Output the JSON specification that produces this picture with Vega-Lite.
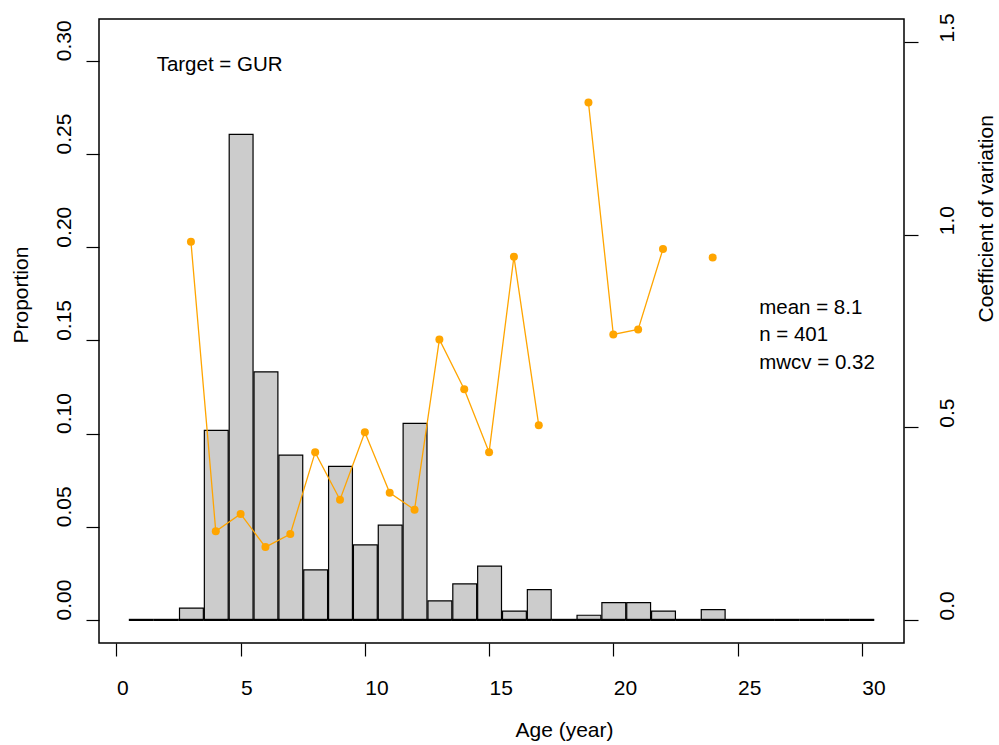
{
  "$schema": "https://vega.github.io/schema/vega-lite/v6.json",
  "autosize": {"type": "none"},
  "padding": {"left": 99, "top": 19, "right": 95, "bottom": 102},
  "width": 805,
  "height": 624,
  "background": "white",
  "config": {
    "font": "Liberation Sans",
    "view": {"stroke": "black", "strokeWidth": 1.5},
    "axis": {
      "domain": false,
      "grid": false,
      "ticks": true,
      "tickColor": "black",
      "tickWidth": 1.2,
      "labelColor": "black",
      "labelFont": "Liberation Sans",
      "labelFontSize": 21,
      "labelOverlap": false,
      "labelFlush": false,
      "labelBound": false,
      "titleColor": "black",
      "titleFont": "Liberation Sans",
      "titleFontSize": 21,
      "titleFontWeight": "normal"
    }
  },
  "datasets": {
    "hist": [
      {"lo": 0.5, "hi": 1.5, "prop": 0},
      {"lo": 1.5, "hi": 2.5, "prop": 0},
      {"lo": 2.5, "hi": 3.5, "prop": 0.0063},
      {"lo": 3.5, "hi": 4.5, "prop": 0.1017},
      {"lo": 4.5, "hi": 5.5, "prop": 0.2605},
      {"lo": 5.5, "hi": 6.5, "prop": 0.1331},
      {"lo": 6.5, "hi": 7.5, "prop": 0.0884},
      {"lo": 7.5, "hi": 8.5, "prop": 0.0268},
      {"lo": 8.5, "hi": 9.5, "prop": 0.0824},
      {"lo": 9.5, "hi": 10.5, "prop": 0.0402},
      {"lo": 10.5, "hi": 11.5, "prop": 0.0508},
      {"lo": 11.5, "hi": 12.5, "prop": 0.1054},
      {"lo": 12.5, "hi": 13.5, "prop": 0.0102},
      {"lo": 13.5, "hi": 14.5, "prop": 0.0193},
      {"lo": 14.5, "hi": 15.5, "prop": 0.0288},
      {"lo": 15.5, "hi": 16.5, "prop": 0.0047},
      {"lo": 16.5, "hi": 17.5, "prop": 0.0162},
      {"lo": 17.5, "hi": 18.5, "prop": 0},
      {"lo": 18.5, "hi": 19.5, "prop": 0.0025},
      {"lo": 19.5, "hi": 20.5, "prop": 0.0093},
      {"lo": 20.5, "hi": 21.5, "prop": 0.0093},
      {"lo": 21.5, "hi": 22.5, "prop": 0.0047},
      {"lo": 22.5, "hi": 23.5, "prop": 0},
      {"lo": 23.5, "hi": 24.5, "prop": 0.0055},
      {"lo": 24.5, "hi": 25.5, "prop": 0},
      {"lo": 25.5, "hi": 26.5, "prop": 0},
      {"lo": 26.5, "hi": 27.5, "prop": 0},
      {"lo": 27.5, "hi": 28.5, "prop": 0},
      {"lo": 28.5, "hi": 29.5, "prop": 0},
      {"lo": 29.5, "hi": 30.5, "prop": 0}
    ],
    "cv": [
      {"age": 3, "cv": 0.982},
      {"age": 4, "cv": 0.230},
      {"age": 5, "cv": 0.275},
      {"age": 6, "cv": 0.189},
      {"age": 7, "cv": 0.223},
      {"age": 8, "cv": 0.435},
      {"age": 9, "cv": 0.312},
      {"age": 10, "cv": 0.487},
      {"age": 11, "cv": 0.330},
      {"age": 12, "cv": 0.286},
      {"age": 13, "cv": 0.728},
      {"age": 14, "cv": 0.599},
      {"age": 15, "cv": 0.435},
      {"age": 16, "cv": 0.943},
      {"age": 17, "cv": 0.505},
      {"age": 18, "cv": null},
      {"age": 19, "cv": 1.343},
      {"age": 20, "cv": 0.741},
      {"age": 21, "cv": 0.754},
      {"age": 22, "cv": 0.963},
      {"age": 23, "cv": null},
      {"age": 24, "cv": 0.941}
    ],
    "notes": [
      {"x": 1.62, "y": 0.2947, "label": "Target = GUR"},
      {"x": 25.87, "y": 0.164, "label": "mean = 8.1"},
      {"x": 25.87, "y": 0.1497, "label": "n = 401"},
      {"x": 25.87, "y": 0.1345, "label": "mwcv = 0.32"}
    ]
  },
  "layer": [
    {
      "layer": [
        {
          "data": {"name": "hist"},
          "mark": {"type": "bar", "fill": "#CCCCCC", "stroke": "black", "strokeWidth": 1.2},
          "encoding": {
            "x": {
              "field": "lo", "type": "quantitative", "bin": "binned",
              "scale": {"domain": [-0.7, 31.7], "nice": false, "zero": false},
              "axis": {
                "orient": "bottom",
                "values": [0, 5, 10, 15, 20, 25, 30],
                "format": "d",
                "tickSize": 13,
                "labelAlign": "left",
                "labelBaseline": "alphabetic",
                "labelPadding": 38,
                "title": "Age (year)",
                "titleAlign": "left",
                "titleBaseline": "alphabetic",
                "titleX": 416,
                "titleY": 93
              }
            },
            "x2": {"field": "hi"},
            "y": {
              "field": "prop", "type": "quantitative",
              "scale": {"domain": [-0.0124, 0.3224], "nice": false, "zero": false},
              "axis": {
                "orient": "left",
                "values": [0, 0.05, 0.1, 0.15, 0.2, 0.25, 0.3],
                "format": ".2f",
                "tickSize": 13,
                "labelAngle": 270,
                "labelAlign": "left",
                "labelBaseline": "alphabetic",
                "labelPadding": 16,
                "title": "Proportion",
                "titleAngle": 270,
                "titleAlign": "left",
                "titleBaseline": "alphabetic",
                "titleX": -72,
                "titleY": 324
              }
            },
            "y2": {"datum": 0}
          }
        },
        {
          "data": {"name": "hist"},
          "mark": {"type": "rule", "color": "black", "strokeWidth": 2.2, "strokeCap": "butt"},
          "encoding": {
            "x": {"field": "lo", "type": "quantitative", "title": "Age (year)"},
            "x2": {"field": "hi"},
            "y": {"datum": 0}
          }
        },
        {
          "data": {"name": "notes"},
          "mark": {"type": "text", "align": "left", "baseline": "alphabetic", "fontSize": 20.5, "color": "black", "font": "Liberation Sans"},
          "encoding": {
            "x": {"field": "x", "type": "quantitative", "title": "Age (year)"},
            "y": {"field": "y", "type": "quantitative"},
            "text": {"field": "label"}
          }
        }
      ]
    },
    {
      "data": {"name": "cv"},
      "layer": [
        {
          "mark": {"type": "line", "color": "#FFA500", "strokeWidth": 1.3, "invalid": "break-paths-show-domains"},
          "encoding": {
            "x": {"field": "age", "type": "quantitative", "title": "Age (year)"},
            "y": {
              "field": "cv", "type": "quantitative",
              "scale": {"domain": [-0.06, 1.56], "nice": false, "zero": false},
              "axis": {
                "orient": "right",
                "values": [0, 0.5, 1, 1.5],
                "format": ".1f",
                "tickSize": 14,
                "labelAngle": 270,
                "labelAlign": "left",
                "labelBaseline": "alphabetic",
                "labelPadding": 35,
                "title": "Coefficient of variation",
                "titleAngle": 270,
                "titleAlign": "left",
                "titleBaseline": "alphabetic",
                "titleX": 88,
                "titleY": 303
              }
            }
          }
        },
        {
          "mark": {"type": "circle", "color": "#FFA500", "size": 64, "opacity": 1},
          "encoding": {
            "x": {"field": "age", "type": "quantitative", "title": "Age (year)"},
            "y": {"field": "cv", "type": "quantitative"}
          }
        }
      ]
    }
  ],
  "resolve": {"scale": {"y": "independent"}, "axis": {"y": "independent"}}
}
